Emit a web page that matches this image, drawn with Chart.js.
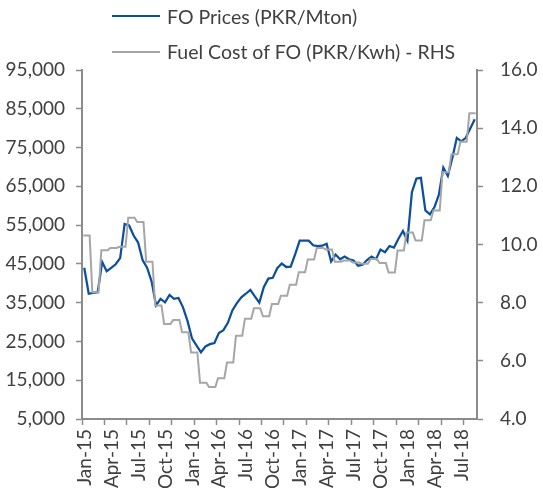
<!DOCTYPE html>
<html lang="en">
<head>
<meta charset="UTF-8">
<title>FO Prices vs Fuel Cost of FO</title>
<script src="https://cdn.jsdelivr.net/npm/chart.js@4.4.0/dist/chart.umd.min.js"></script>
<style>
    body { margin: 0; background: #fff; }
    .wrap { position: relative; width: 543px; height: 488px; font-family: Lato, sans-serif; color: #404040; }
    .legend { position: absolute; left: 112px; top: 0; font-size: 19.5px; }
    .legend .item { position: absolute; left: 0; height: 24px; display: flex; align-items: center; white-space: nowrap; }
    .legend .swatch { display: inline-block; width: 48px; height: 2px; margin-right: 7px; }
</style>
</head>
<body>
<div class="wrap">
    <canvas id="foChart" width="543" height="488"></canvas>
    <div id="legend" class="legend"></div>
</div>
<script>
// quarter labels on the x axis
const quarterLabels = ['Jan-15', 'Apr-15', 'Jul-15', 'Oct-15', 'Jan-16', 'Apr-16', 'Jul-16', 'Oct-16',
    'Jan-17', 'Apr-17', 'Jul-17', 'Oct-17', 'Jan-18', 'Apr-18', 'Jul-18'];

// FO prices, PKR/Mton, twice a month from Jan-15 to Aug-18
const foPrices = [
    44000, 37300, 37500, 37700, 45500, 43100, 44000, 44900, 46500, 55300, 54900, 52300,
    50500, 46000, 44000, 40500, 34300, 36000, 35100, 37000, 36000, 36200, 33800, 30300,
    25800, 24000, 22200, 23700, 24300, 24600, 27200, 27900, 29800, 33000, 34900, 36400,
    37300, 38300, 36600, 35000, 39000, 41200, 41400, 43900, 45100, 44200, 44300, 47500,
    51000, 51000, 51000, 49800, 49600, 49700, 50200, 45600, 47400, 46200, 46900, 46200,
    45900, 44500, 44800, 46000, 46900, 46200, 48700, 48000, 49600, 49200, 51500, 53500,
    51000, 63500, 67000, 67200, 58800, 57800, 59600, 62800, 69800, 67700, 72300, 77500,
    76600, 77500, 79900, 82300
];

// fuel cost of FO, PKR/Kwh, monthly from Jan-15 to Aug-18 (RHS)
const fuelCost = [
    10.31, 8.36, 9.80, 9.88, 9.92, 10.92, 10.77, 9.41, 7.90, 7.27, 7.40, 6.98,
    6.29, 5.25, 5.10, 5.40, 5.94, 6.86, 7.45, 7.81, 7.53, 7.95, 8.24, 8.62,
    9.05, 9.48, 9.88, 9.83, 9.41, 9.45, 9.38, 9.34, 9.50, 9.36, 9.04, 9.79,
    10.41, 10.14, 10.83, 11.17, 12.48, 13.10, 13.53, 14.51
];

const blue = '#0d4f9c';
const grey = '#a6a6a6';
const axisGrey = '#8c8c8c';

// x axis runs in months since the start of Jan-15
const tickMarks = [];
for (let m = 0; m <= 42.5; m += 2.5) tickMarks.push(m);
const labelPos = quarterLabels.map((_, i) => i * 3 + 0.3);

Chart.defaults.font.family = 'Lato';
Chart.defaults.font.size = 19;
Chart.defaults.color = '#404040';

const data = {
    datasets: [{
            label: 'FO Prices (PKR/Mton)',
            data: foPrices.map((v, i) => ({ x: i * 0.5 + 0.25, y: v })),
            borderColor: blue,
            backgroundColor: blue,
            borderWidth: 2.25,
            pointRadius: 0,
            tension: 0,
            yAxisID: 'y',
            order: 1
        },
        {
            label: 'Fuel Cost of FO (PKR/Kwh) - RHS',
            // each monthly value holds flat across its month
            data: fuelCost.flatMap((v, i) => [{ x: i + 0.15, y: v }, { x: i + 0.85, y: v }]),
            borderColor: grey,
            backgroundColor: grey,
            borderWidth: 2,
            pointRadius: 0,
            tension: 0,
            yAxisID: 'y1',
            order: 0
        }
    ]
};

const config = {
    type: 'line',
    data,
    options: {
        responsive: false,
        animation: false,
        layout: { padding: { top: 70, left: 0, right: 0, bottom: 0 } },
        scales: {
            x: {
                type: 'linear',
                min: 0,
                max: 44,
                afterBuildTicks: s => {
                    s.ticks = tickMarks.concat(labelPos).sort((a, b) => a - b).map(v => ({ value: v }));
                },
                afterFit: s => { s.height = 69; },
                ticks: {
                    autoSkip: false,
                    minRotation: 90,
                    maxRotation: 90,
                    padding: 4,
                    callback: v => {
                        const i = labelPos.indexOf(v);
                        return i < 0 ? '' : quarterLabels[i];
                    }
                },
                grid: {
                    drawOnChartArea: false,
                    tickLength: 6,
                    tickWidth: 1.5,
                    tickColor: c => (c.tick && tickMarks.includes(c.tick.value)) ? axisGrey : 'rgba(0,0,0,0)'
                },
                border: { color: axisGrey, width: 2 }
            },
            y: {
                position: 'left',
                min: 5000,
                max: 95000,
                afterFit: s => { s.width = 82; },
                ticks: {
                    stepSize: 10000,
                    padding: 11,
                    callback: v => v.toLocaleString('en-US')
                },
                grid: { drawOnChartArea: false, tickLength: 6, tickWidth: 1.5, tickColor: axisGrey },
                border: { color: axisGrey, width: 2 }
            },
            y1: {
                position: 'right',
                min: 4,
                max: 16,
                afterFit: s => { s.width = 66; },
                ticks: {
                    stepSize: 2,
                    padding: 17,
                    callback: v => v.toFixed(1)
                },
                grid: { drawOnChartArea: false, tickLength: 6, tickWidth: 1.5, tickColor: axisGrey },
                border: { color: axisGrey, width: 2 }
            }
        },
        plugins: {
            legend: { display: false },
            tooltip: { enabled: false }
        }
    }
};

const ctx = document.getElementById('foChart').getContext('2d');
const foChart = new Chart(ctx, config);

// legend rows built from the chart's own datasets
const legendEl = document.getElementById('legend');
foChart.data.datasets.forEach((ds, i) => {
    const row = document.createElement('div');
    row.className = 'item';
    row.style.top = (4 + i * 35.5) + 'px';
    const sw = document.createElement('span');
    sw.className = 'swatch';
    sw.style.background = ds.borderColor;
    const txt = document.createElement('span');
    txt.textContent = ds.label;
    row.appendChild(sw);
    row.appendChild(txt);
    legendEl.appendChild(row);
});
</script>
</body>
</html>
